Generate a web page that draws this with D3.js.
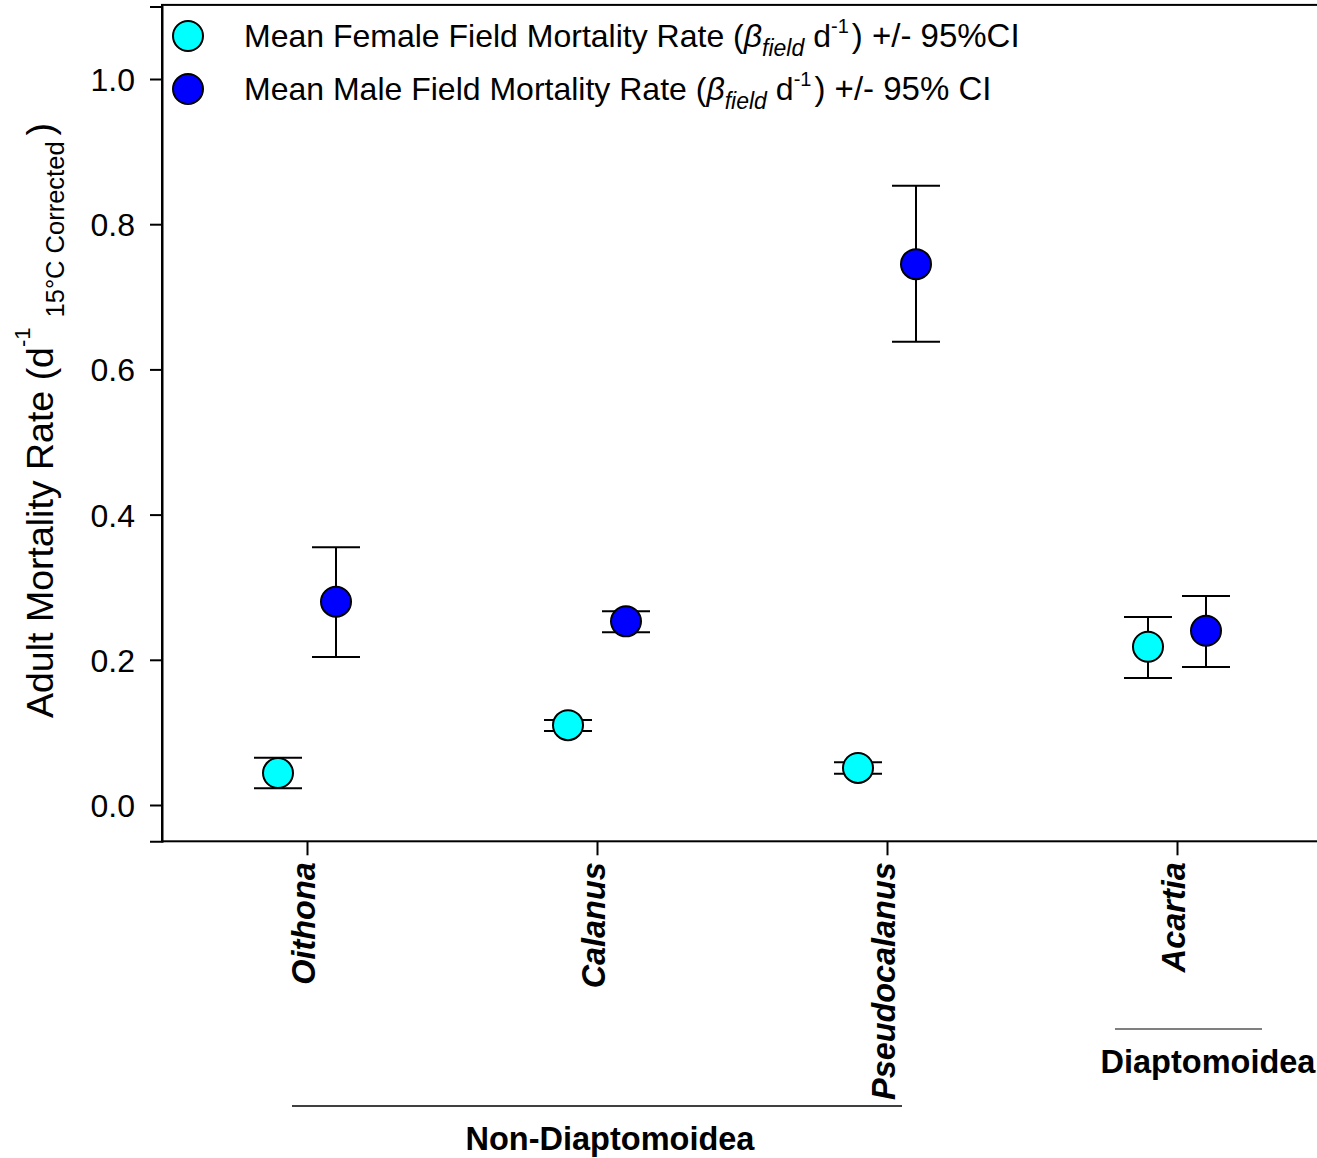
<!DOCTYPE html>
<html><head><meta charset="utf-8">
<script src="https://cdn.jsdelivr.net/npm/d3@7"></script>
<style>body{margin:0;background:#fff}svg{display:block}text{font-family:"Liberation Sans",Arial,sans-serif}</style>
</head><body>
<script>
const categories = ["Oithona", "Calanus", "Pseudocalanus", "Acartia"];
const femaleMean = [0.044, 0.110, 0.051, 0.218];
const femaleLo   = [0.023, 0.102, 0.043, 0.175];
const femaleHi   = [0.065, 0.117, 0.059, 0.259];
const maleMean   = [0.280, 0.253, 0.745, 0.240];
const maleLo     = [0.204, 0.238, 0.638, 0.190];
const maleHi     = [0.355, 0.267, 0.853, 0.288];
const yTicks = [0.0, 0.2, 0.4, 0.6, 0.8, 1.0];
const groups = [
  {name: "Non-Diaptomoidea", from: 0, to: 2},
  {name: "Diaptomoidea", from: 3, to: 3}
];

const W = 1317, H = 1158;
const svg = d3.select("body").append("svg").attr("width", W).attr("height", H);

const x = d3.scaleLinear().domain([0.5, 4.5]).range([162, 1322]);
const y = d3.scaleLinear().domain([-0.05, 1.1]).range([841.3, 6.4]);
const off = 0.1;

// frame
svg.append("rect").attr("x", x(0.5)).attr("y", y(1.1) - 1.5)
  .attr("width", 1200).attr("height", y(-0.05) - y(1.1) + 1.5)
  .attr("fill", "none").attr("stroke", "#000").attr("stroke-width", 2);

// y axis
const yAxis = svg.append("g").attr("transform", `translate(${x(0.5)},0)`)
  .call(d3.axisLeft(y).tickValues(yTicks).tickFormat(d3.format(".1f")).tickSize(12).tickPadding(15));
yAxis.select(".domain").attr("stroke-width", 2);
yAxis.selectAll(".tick line").attr("stroke-width", 2);
yAxis.selectAll("text").attr("font-size", 32).attr("fill", "#000")
  .attr("font-family", "Liberation Sans, Arial, sans-serif").attr("dy", "0.36em");

// x axis
const xAxis = svg.append("g").attr("transform", `translate(0,${y(-0.05)})`)
  .call(d3.axisBottom(x).tickValues([1,2,3,4]).tickSize(14).tickFormat(""));
xAxis.select(".domain").remove();
xAxis.selectAll(".tick line").attr("stroke-width", 2);

svg.append("g").selectAll("text").data(categories).join("text")
  .attr("transform", (d, i) => `translate(${x(i + 1)},${y(-0.05) + 21}) rotate(-90)`)
  .attr("text-anchor", "end").attr("dy", "0.26em")
  .attr("font-size", 32.4).attr("font-weight", "bold").attr("font-style", "italic")
  .text(d => d);

// group annotations
const gLineY = [1106, 1029], gTextY = [1150, 1073];
const gExt = [[-15, 15], [-62, 85]];
const gTextX = [610, 1208];
groups.forEach((g, k) => {
  const x1 = x(g.from + 1) + gExt[k][0], x2 = x(g.to + 1) + gExt[k][1];
  svg.append("line").attr("x1", x1).attr("x2", x2).attr("y1", gLineY[k]).attr("y2", gLineY[k])
    .attr("stroke", "#000").attr("stroke-width", k === 0 ? 1.5 : 1.2);
  svg.append("text").attr("x", gTextX[k]).attr("y", gTextY[k])
    .attr("text-anchor", "middle").attr("font-size", 32.5).attr("font-weight", "bold").text(g.name);
});

// series
const series = [
  {mean: femaleMean, lo: femaleLo, hi: femaleHi, dx: -off, color: "#00ffff"},
  {mean: maleMean, lo: maleLo, hi: maleHi, dx: off, color: "#0000ff"}
];
series.forEach(s => {
  const g = svg.append("g");
  const data = categories.map((c, i) => ({cx: x(i + 1 + s.dx), m: s.mean[i], lo: s.lo[i], hi: s.hi[i]}));
  g.selectAll(".v").data(data).join("line")
    .attr("x1", d => d.cx).attr("x2", d => d.cx).attr("y1", d => y(d.lo)).attr("y2", d => y(d.hi))
    .attr("stroke", "#000").attr("stroke-width", 2);
  ["lo", "hi"].forEach(k => {
    g.selectAll(".c" + k).data(data).join("line")
      .attr("x1", d => d.cx - 24).attr("x2", d => d.cx + 24).attr("y1", d => y(d[k])).attr("y2", d => y(d[k]))
      .attr("stroke", "#000").attr("stroke-width", 2);
  });
  g.selectAll("circle").data(data).join("circle")
    .attr("cx", d => d.cx).attr("cy", d => y(d.m)).attr("r", 15)
    .attr("fill", s.color).attr("stroke", "#000").attr("stroke-width", 2);
});

// legend
const legend = [
  {color: "#00ffff", pre: "Mean Female Field Mortality Rate (", post: ") +/- 95%CI"},
  {color: "#0000ff", pre: "Mean Male Field Mortality Rate (", post: ") +/- 95% CI"}
];
legend.forEach((l, i) => {
  const cy = 36 + i * 53;
  svg.append("circle").attr("cx", 188).attr("cy", cy).attr("r", 15)
    .attr("fill", l.color).attr("stroke", "#000").attr("stroke-width", 2);
  const t = svg.append("text").attr("x", 244).attr("y", cy + 11).attr("font-size", 32);
  t.append("tspan").text(l.pre);
  t.append("tspan").attr("font-style", "italic").text("β");
  t.append("tspan").attr("font-style", "italic").attr("font-size", 23).attr("dy", 9).text("field");
  t.append("tspan").attr("dy", -9).attr("dx", 9).text("d");
  t.append("tspan").attr("font-size", 20).attr("dy", -14).text("-1");
  t.append("tspan").attr("dy", 14).attr("dx", 3).attr("font-size", 33).text(l.post);
});

// y label
const yl = svg.append("text").attr("transform", "translate(53,718) rotate(-90)").attr("font-size", 37.5);
yl.append("tspan").text("Adult Mortality Rate (d");
yl.append("tspan").attr("font-size", 22).attr("dy", -23).text("-1");
yl.append("tspan").attr("font-size", 25.5).attr("dy", 34).attr("dx", 10).text("15°C Corrected");
yl.append("tspan").attr("dy", -11).attr("dx", 6).text(")");
</script>
</body></html>
